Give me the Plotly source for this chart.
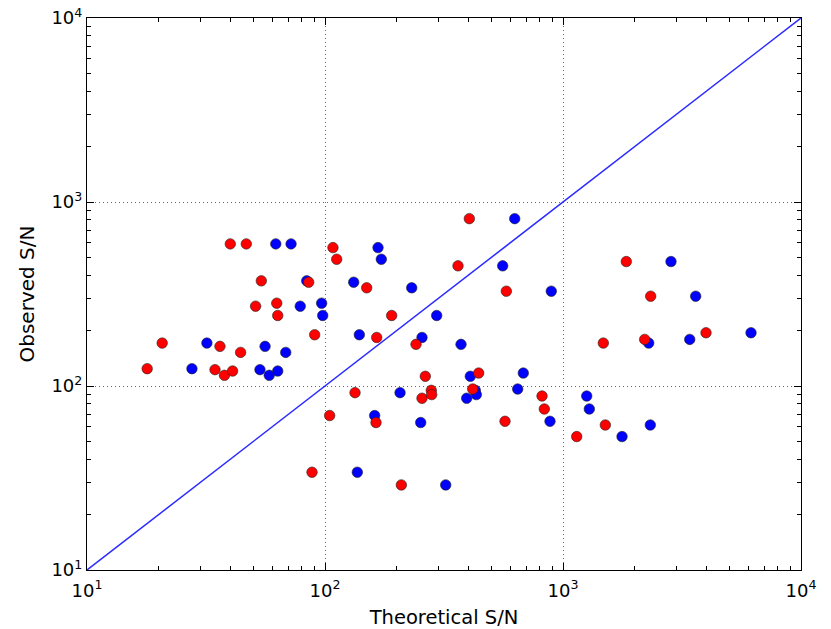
import plotly.graph_objects as go

# Red series (theoretical S/N, observed S/N)
red_x = [17.9, 20.7, 36.2, 34.5, 37.8, 40.9, 44.2, 40.0, 46.7, 54.0, 51.1, 62.7, 63.3,
         85.4, 90.5, 88.2, 104.6, 108.0, 112.0, 133.7, 149.7, 163.8, 164.9, 190.6, 209.3,
         241.2, 263.9, 255.6, 279.6, 280.7, 362.1, 404.0, 417.5, 442.3, 578.0, 570.6,
         816.4, 834.7, 1142, 1506, 1477, 1845, 2336, 2204, 3989]
red_y = [124.2, 171.1, 164.2, 122.7, 114.3, 120.6, 152.3, 592, 592, 372.8, 271.5, 281.9, 241.7,
         366.5, 189.9, 34.0, 69.1, 565, 488.5, 92.0, 341.7, 63.3, 183.6, 241.7, 29.0,
         168.4, 112.9, 85.8, 94.7, 89.8, 449.8, 812, 96.3, 117.6, 327.5, 64.3,
         88.2, 75.0, 53.1, 61.4, 171.1, 474.6, 307.7, 179.2, 194.7]

# Blue series
blue_x = [27.6, 31.9, 56.0, 53.3, 58.3, 63.3, 68.4, 62.1, 72.0, 83.8, 78.7, 96.8, 97.8,
          132.0, 139.4, 136.7, 161.7, 167.0, 172.4, 206.7, 231.4, 252.4, 255.6, 294.6, 321.5,
          372.8, 407.9, 393.9, 428.0, 432.3, 557.9, 626.8, 645.0, 681.0, 892.9, 881.8,
          1258, 1290, 1770, 2327, 2291, 2843, 3610, 3408, 6166]
blue_y = [124.2, 171.1, 164.2, 122.7, 114.3, 120.6, 152.3, 592, 592, 372.8, 271.5, 281.9, 241.7,
          366.5, 189.9, 34.0, 69.1, 565, 488.5, 92.0, 341.7, 63.3, 183.6, 241.7, 29.0,
          168.4, 112.9, 85.8, 94.7, 89.8, 449.8, 812, 96.3, 117.6, 327.5, 64.3,
          88.2, 75.0, 53.1, 61.4, 171.1, 474.6, 307.7, 179.2, 194.7]

# One-to-one reference line
diag = [10, 10000]

tick_vals = [10, 100, 1000, 10000]
tick_text = ["10<sup>1</sup>", "10<sup>2</sup>", "10<sup>3</sup>", "10<sup>4</sup>"]

FONT = "DejaVu Sans"

fig = go.Figure()
fig.add_trace(go.Scatter(x=diag, y=diag, mode="lines",
                         line=dict(color="#2b2bff", width=1.5), hoverinfo="skip"))
fig.add_trace(go.Scatter(x=blue_x, y=blue_y, mode="markers",
                         marker=dict(color="#0000ff", size=10.5,
                                     line=dict(color="#222222", width=0.6))))
fig.add_trace(go.Scatter(x=red_x, y=red_y, mode="markers",
                         marker=dict(color="#ff0000", size=10.5,
                                     line=dict(color="#222222", width=0.6))))

axis_common = dict(
    type="log",
    range=[1, 4],
    automargin=False,
    showline=True, linecolor="black", linewidth=1.2, mirror="ticks",
    ticks="inside", ticklen=7, tickwidth=1, tickcolor="black",
    tickvals=tick_vals, ticktext=tick_text,
    tickfont=dict(family=FONT, size=18, color="black"),
    showgrid=True, gridcolor="#666666", gridwidth=1, griddash="1px,3px",
    zeroline=False,
    minor=dict(ticks="inside", ticklen=4, tickwidth=1, tickcolor="black",
               dtick="D1", showgrid=False),
)

fig.update_layout(
    width=831, height=629,
    margin=dict(l=87, r=30, t=18, b=59),
    paper_bgcolor="white", plot_bgcolor="white",
    showlegend=False,
    xaxis=dict(axis_common, ticklabelstandoff=4,
               title=dict(text="Theoretical S/N", standoff=18,
                          font=dict(family=FONT, size=19.5, color="black"))),
    yaxis=dict(axis_common,
               title=dict(text="Observed S/N", standoff=11,
                          font=dict(family=FONT, size=20, color="black"))),
)

fig.write_html("out.html",
               config={"displayModeBar": False},
               post_script="document.body.style.margin='0';document.body.style.overflow='hidden';")
